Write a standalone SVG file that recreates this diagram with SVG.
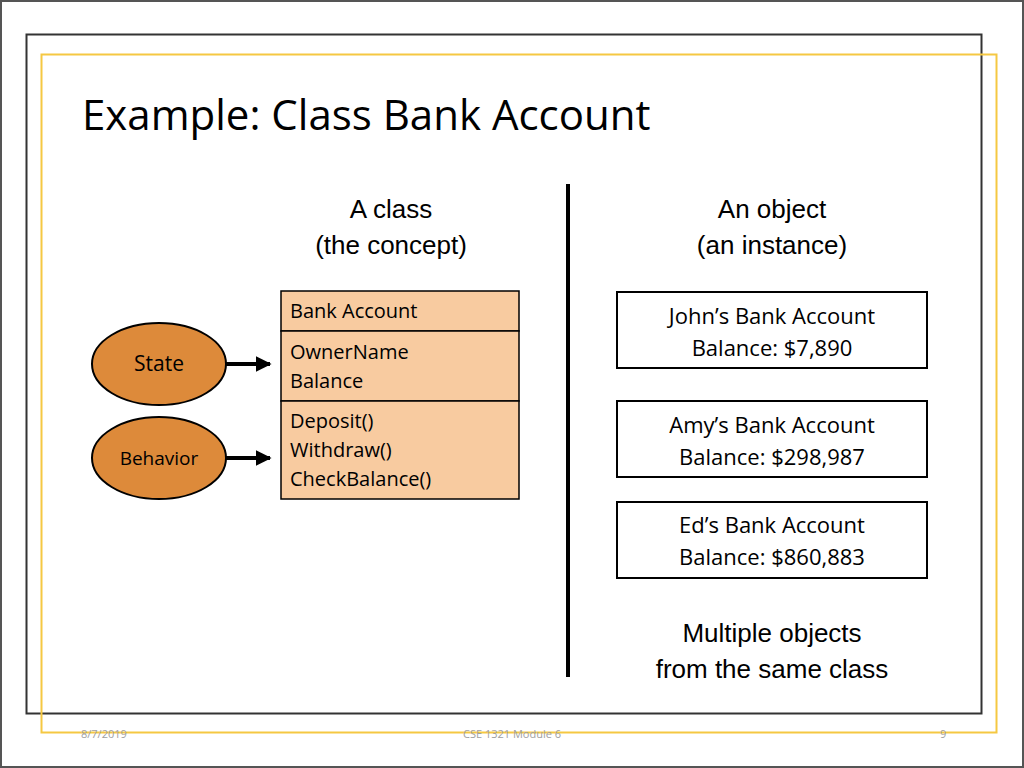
<svg xmlns="http://www.w3.org/2000/svg" width="1024" height="768" viewBox="0 0 1024 768">
<defs>
<style>
.c{font-family:"Open Sans","Liberation Sans",sans-serif;fill:#000}
.a{font-family:"Liberation Sans",Arial,sans-serif;fill:#000;font-size:26px;text-anchor:middle}
.box{fill:#f8cba0;stroke:#000;stroke-width:1.5}
.obj{fill:#fff;stroke:#000;stroke-width:2}
.ell{fill:#dd8a3a;stroke:#000;stroke-width:2}
.f{font-family:"Open Sans","Liberation Sans",sans-serif;fill:#a0a0a0;font-size:11px}
</style>
<marker id="ah" viewBox="0 0 10 10" refX="9" refY="5" markerWidth="4" markerHeight="4" orient="auto"><path d="M0,0L10,5L0,10z" fill="#000"/></marker>
</defs>
<rect x="0" y="0" width="1024" height="768" fill="#fff"/>
<rect x="1" y="1" width="1022" height="766" fill="none" stroke="#555" stroke-width="2"/>
<rect x="26.5" y="34.5" width="955" height="679" fill="none" stroke="#333" stroke-width="2"/>
<rect x="41.5" y="54.5" width="955" height="678" fill="none" stroke="#f5c842" stroke-width="2"/>
<text class="c" x="82" y="130" font-size="42">Example: Class Bank Account</text>
<text class="a" x="391" y="218">A class</text>
<text class="a" x="391" y="254">(the concept)</text>
<text class="a" x="772" y="218">An object</text>
<text class="a" x="772" y="254">(an instance)</text>
<line x1="568" y1="184" x2="568" y2="677" stroke="#000" stroke-width="4"/>
<g id="class">
<rect class="box" x="281" y="291" width="238" height="40"/>
<rect class="box" x="281" y="331" width="238" height="70"/>
<rect class="box" x="281" y="401" width="238" height="98"/>
<text class="c" x="290" y="318" font-size="20">Bank Account</text>
<text class="c" x="290" y="359" font-size="20">OwnerName</text>
<text class="c" x="290" y="388" font-size="20">Balance</text>
<text class="c" x="290" y="428" font-size="20">Deposit()</text>
<text class="c" x="290" y="457" font-size="20">Withdraw()</text>
<text class="c" x="290" y="486" font-size="20">CheckBalance()</text>
</g>
<g id="state"><ellipse class="ell" cx="159" cy="364" rx="67" ry="41"/><text class="c" x="159" y="371" font-size="21" text-anchor="middle">State</text></g>
<g id="behavior"><ellipse class="ell" cx="159" cy="458" rx="67" ry="41"/><text class="c" x="159" y="465" font-size="19" text-anchor="middle">Behavior</text></g>
<g id="connectors" stroke="#000" stroke-width="4">
<line x1="226" y1="364" x2="270" y2="364" marker-end="url(#ah)"/>
<line x1="226" y1="458" x2="270" y2="458" marker-end="url(#ah)"/>
</g>
<g id="john"><rect class="obj" x="617" y="292" width="310" height="76"/><text class="c" x="772" y="324" font-size="22" text-anchor="middle">John’s Bank Account</text><text class="c" x="772" y="356" font-size="22" text-anchor="middle">Balance: $7,890</text></g>
<g id="amy"><rect class="obj" x="617" y="401" width="310" height="76"/><text class="c" x="772" y="433" font-size="22" text-anchor="middle">Amy’s Bank Account</text><text class="c" x="772" y="465" font-size="22" text-anchor="middle">Balance: $298,987</text></g>
<g id="ed"><rect class="obj" x="617" y="502" width="310" height="76"/><text class="c" x="772" y="533" font-size="22" text-anchor="middle">Ed’s Bank Account</text><text class="c" x="772" y="565" font-size="22" text-anchor="middle">Balance: $860,883</text></g>
<text class="a" x="772" y="642">Multiple objects</text>
<text class="a" x="772" y="678">from the same class</text>
<text class="f" x="81" y="738">8/7/2019</text>
<text class="f" x="512" y="738" text-anchor="middle">CSE 1321 Module 6</text>
<text class="f" x="940" y="738">9</text>
</svg>
